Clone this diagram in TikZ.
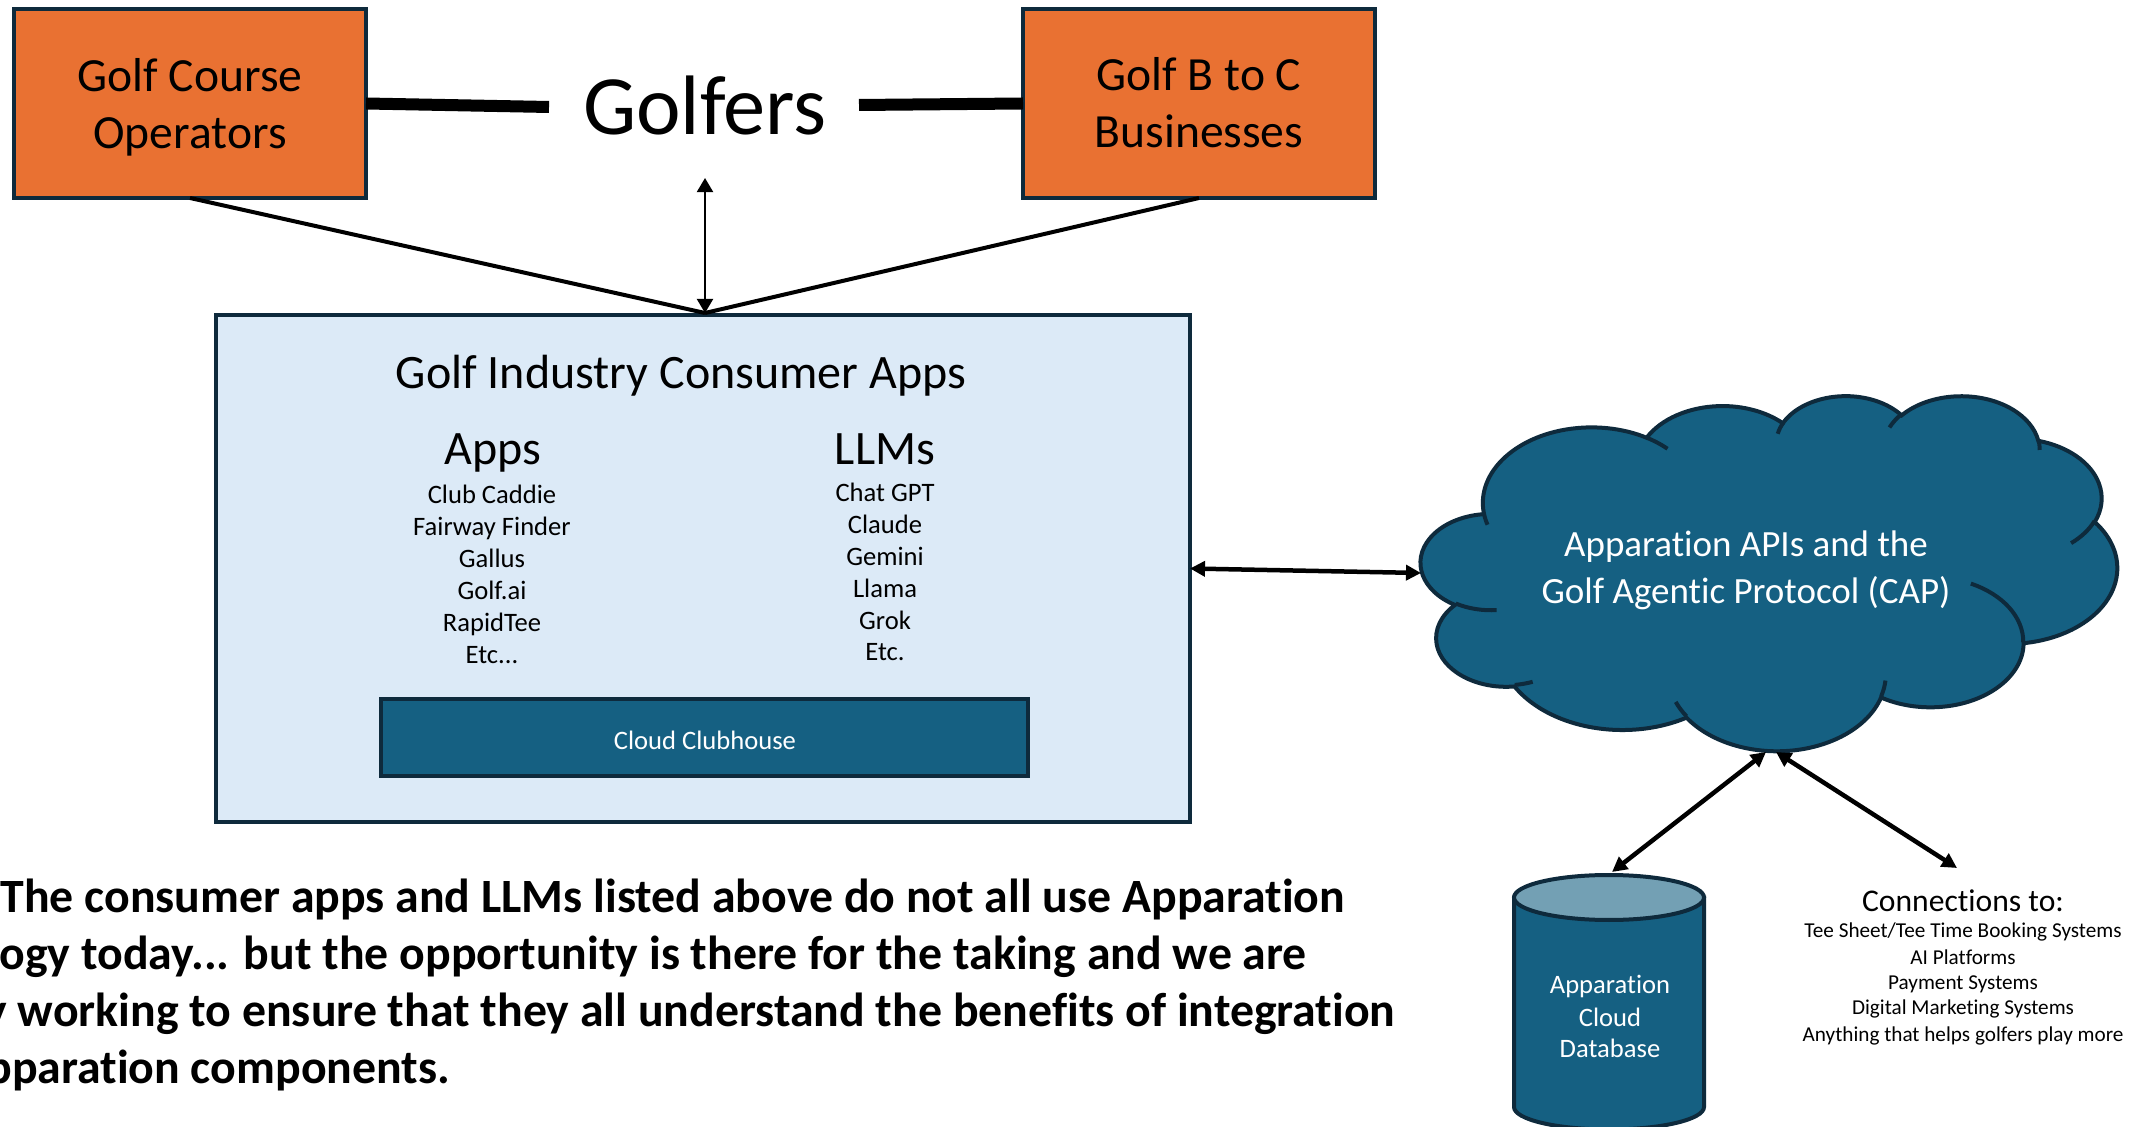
\documentclass[tikz,border=0pt]{standalone}
\usepackage{fontspec}
\setmainfont{Carlito}[Ligatures=NoCommon]
\usetikzlibrary{arrows.meta}
\definecolor{orangeF}{HTML}{E97132}
\definecolor{navy}{HTML}{0E2A3C}
\definecolor{lightF}{HTML}{DCEAF7}
\definecolor{tealF}{HTML}{156082}
\definecolor{topF}{HTML}{73A0B4}
\tikzset{
  declare function={
    pang(\wR,\hR,\aA)=atan2(\wR*sin(\aA),\hR*cos(\aA));
    dang(\wR,\hR,\aA,\sW)=mod(mod(pang(\wR,\hR,\aA+\sW)-pang(\wR,\hR,\aA),360)+360,360);
  },
  box/.style={draw=navy, line width=2pt, inner sep=0pt, outer sep=0pt},
  obox/.style={box, fill=orangeF, minimum width=176pt, minimum height=94.5pt},
  otext/.style={font=\fontsize{23.8}{28.5}\selectfont, anchor=base, inner sep=0pt},
  hd/.style={font=\fontsize{24}{29}\selectfont, anchor=base, inner sep=0pt},
  li/.style={font=\fontsize{13.3}{16}\selectfont, anchor=base, inner sep=0pt},
  wli/.style={li, text=white},
  capt/.style={font=\fontsize{18.5}{22}\selectfont, anchor=base, inner sep=0pt, text=white},
  conh/.style={font=\fontsize{15.8}{19}\selectfont, anchor=base, inner sep=0pt},
  conl/.style={font=\fontsize{10.6}{13}\selectfont, anchor=base, inner sep=0pt},
  note/.style={font=\fontsize{23.9}{28.8}\selectfont\bfseries, anchor=base west, inner sep=0pt},
  thinarrow/.style={line width=1pt, {Triangle[length=7pt,width=8pt]}-{Triangle[length=7pt,width=8pt]}},
  dblarrow/.style={line width=2.25pt, {Triangle[length=7.5pt,width=7.5pt]}-{Triangle[length=7.5pt,width=7.5pt]}},
}
\begin{document}
\begin{tikzpicture}[x=0.5pt,y=-0.5pt]
\useasboundingbox (0,0) rectangle (2131,1127);
\clip (0,0) rectangle (2131,1127);
\fill[white] (0,0) rectangle (2131,1127);

% top boxes and Golfers
\node[obox] (lbox) at (190,103.5) {};
\node[otext] (lboxA) at (190,91.5) {Golf Course};
\node[otext] (lboxB) at (190,148.5) {Operators};
\node[obox] (rbox) at (1199,103.5) {};
\node[otext] (rboxA) at (1199,90.5) {Golf B to C};
\node[otext] (rboxB) at (1199,148) {Businesses};
\node[font=\fontsize{42.2}{50}\selectfont, anchor=base, inner xsep=17pt, inner ysep=21pt] (golfers) at (705,135) {Golfers};
\coordinate (gL) at (549,107);
\coordinate (gR) at (859,105);
\draw[line width=6pt] (lbox.east) -- (gL);
\draw[line width=6pt] (gR) -- (rbox.west);

% consumer apps box
\node[box, fill=lightF, minimum width=487pt, minimum height=253.5pt] (appbox) at (703,568.5) {};
\coordinate (apptop) at (705,313);
\draw[line width=2pt] (lbox.south) -- (apptop);
\draw[line width=2pt] (rbox.south) -- (apptop);
\draw[thinarrow] (apptop) -- (golfers.south);

\node[hd] (title) at (681,389) {Golf Industry Consumer Apps};
\node[hd] (appsh) at (493,465) {Apps};
\node[hd] (llmh) at (885,465) {LLMs};
\node[li] (app1) at (492,504) {Club Caddie};
\node[li] (app2) at (492,536) {Fairway Finder};
\node[li] (app3) at (492,568) {Gallus};
\node[li] (app4) at (492,600) {Golf.ai};
\node[li] (app5) at (492,632) {RapidTee};
\node[li] (app6) at (492,664) {Etc...};
\node[li] (llm1) at (885,502) {Chat GPT};
\node[li] (llm2) at (885,534) {Claude};
\node[li] (llm3) at (885,566) {Gemini};
\node[li] (llm4) at (885,598) {Llama};
\node[li] (llm5) at (885,630) {Grok};
\node[li] (llm6) at (885,661) {Etc.};

\node[box, fill=tealF, minimum width=323.5pt, minimum height=38.5pt] (cch) at (704.5,737.5) {};
\node[wli] (ccht) at (705,750) {Cloud Clubhouse};

% cloud
\begin{scope}[shift={(1421,395)}, x=0.80556pt, y=-0.41088pt]
\path[fill=tealF, draw=navy, line width=2pt] (39.00,143.70)
  arc[start angle={pang(67.53,91.90,-190.4875)}, delta angle={dang(67.53,91.90,-190.4875,123.7805)}, x radius=67.53, y radius=91.90]
  arc[start angle={pang(53.33,72.67,-144.1024)}, delta angle={dang(53.33,72.67,-144.1024,89.9452)}, x radius=53.33, y radius=72.67]
  arc[start angle={pang(43.65,59.45,-145.8079)}, delta angle={dang(43.65,59.45,-145.8079,99.7230)}, x radius=43.65, y radius=59.45]
  arc[start angle={pang(48.57,65.95,-130.9861)}, delta angle={dang(48.57,65.95,-130.9861,117.2417)}, x radius=48.57, y radius=65.95]
  arc[start angle={pang(53.33,72.73,-78.7089)}, delta angle={dang(53.33,72.73,-78.7089,109.0269)}, x radius=53.33, y radius=72.73]
  arc[start angle={pang(67.75,92.20,-46.2673)}, delta angle={dang(67.75,92.20,-46.2673,130.2690)}, x radius=67.75, y radius=92.20]
  arc[start angle={pang(57.85,78.67,0.6250)}, delta angle={dang(57.85,78.67,0.6250,114.0333)}, x radius=57.85, y radius=78.67]
  arc[start angle={pang(67.52,92.15,22.4516)}, delta angle={dang(67.52,92.15,22.4516,115.1726)}, x radius=67.52, y radius=92.15]
  arc[start angle={pang(77.20,105.43,66.2426)}, delta angle={dang(77.20,105.43,66.2426,75.7110)}, x radius=77.20, y radius=105.43]
  arc[start angle={pang(43.60,59.18,-274.9421)}, delta angle={dang(43.60,59.18,-274.9421,146.7356)}, x radius=43.60, y radius=59.18]
  arc[start angle={pang(43.45,59.45,-246.8285)}, delta angle={dang(43.45,59.45,-246.8285,152.5189)}, x radius=43.45, y radius=59.45]
  -- cycle;
\draw[navy, line width=2pt]
  (46.93,261.77) arc[start angle={pang(43.45,59.45,86.7420)}, delta angle={dang(43.45,59.45,86.7420,26.4295)}, x radius=43.45, y radius=59.45]
  (69.28,348.99) arc[start angle={pang(43.60,59.18,73.6105)}, delta angle={dang(43.60,59.18,73.6105,11.4475)}, x radius=43.60, y radius=59.18]
  (164.78,390.90) arc[start angle={pang(67.52,92.15,137.6242)}, delta angle={dang(67.52,92.15,137.6242,14.0811)}, x radius=67.52, y radius=92.15]
  (288.27,347.51) arc[start angle={pang(67.52,92.15,6.4533)}, delta angle={dang(67.52,92.15,6.4533,15.9984)}, x radius=67.52, y radius=92.15]
  (341.29,229.54) arc[start angle={pang(57.85,78.67,-70.2924)}, delta angle={dang(57.85,78.67,-70.2924,70.9174)}, x radius=57.85, y radius=78.67]
  (417.98,153.54) arc[start angle={pang(53.33,72.73,30.3180)}, delta angle={dang(53.33,72.73,30.3180,27.7515)}, x radius=53.33, y radius=72.73]
  (383.24,54.26) arc[start angle={pang(48.57,65.95,-13.7443)}, delta angle={dang(48.57,65.95,-13.7443,14.8589)}, x radius=48.57, y radius=65.95]
  (290.78,39.52) arc[start angle={pang(48.57,65.95,-149.1815)}, delta angle={dang(48.57,65.95,-149.1815,18.1954)}, x radius=48.57, y radius=65.95]
  (221.41,47.20) arc[start angle={pang(43.65,59.45,-163.4943)}, delta angle={dang(43.65,59.45,-163.4943,17.6864)}, x radius=43.65, y radius=59.45]
  (140.00,51.92) arc[start angle={pang(67.53,91.90,-66.7070)}, delta angle={dang(67.53,91.90,-66.7070,12.3194)}, x radius=67.53, y radius=91.90]
  (41.27,157.89) arc[start angle={pang(67.53,91.90,157.6544)}, delta angle={dang(67.53,91.90,157.6544,11.8582)}, x radius=67.53, y radius=91.90];
\end{scope}
\node[capt] (capA) at (1746,557) {Apparation APIs and the};
\node[capt] (capB) at (1746,604) {Golf Agentic Protocol (CAP)};
\coordinate (cloudL) at (1421,573);
\coordinate (cloudB1) at (1766,752);
\coordinate (cloudB2) at (1776,752);

% database cylinder
\path[fill=tealF, draw=navy, line width=2pt] (1514,897.5) -- (1514,1107)
  arc[start angle=180, end angle=0, x radius=95, y radius=22.5] -- (1704,897.5) -- cycle;
\draw[fill=topF, draw=navy, line width=2pt] (1609,897.5) ellipse [x radius=95, y radius=22.5];
\node[wli] (dbA) at (1610,993) {Apparation};
\node[wli] (dbB) at (1610,1026) {Cloud};
\node[wli] (dbC) at (1610,1057) {Database};
\coordinate (dbtop) at (1612,872);

% connections
\node[conh] (conH) at (1963,911) {Connections to:};
\node[conl] (con1) at (1963,937) {Tee Sheet/Tee Time Booking Systems};
\node[conl] (con2) at (1963,964) {AI Platforms};
\node[conl] (con3) at (1963,989) {Payment Systems};
\node[conl] (con4) at (1963,1014) {Digital Marketing Systems};
\node[conl] (con5) at (1963,1041) {Anything that helps golfers play more};
\coordinate (conntop) at (1957,868);

% arrows
\draw[dblarrow] (appbox.east) -- (cloudL);
\draw[dblarrow] (cloudB1) -- (dbtop);
\draw[dblarrow] (cloudB2) -- (conntop);

% bottom note
\node[note] (n1) at (0,912) {The consumer apps and LLMs listed above do not all use Apparation};
\node[note] (n2) at (-1,969) {\llap{technol}ogy today... but the opportunity is there for the taking and we are};
\node[note] (n3) at (-16,1026) {\llap{activel}y working to ensure that they all understand the benefits of integration};
\node[note] (n4) at (-14,1083) {\llap{with A}pparation components.};
\end{tikzpicture}
\end{document}
